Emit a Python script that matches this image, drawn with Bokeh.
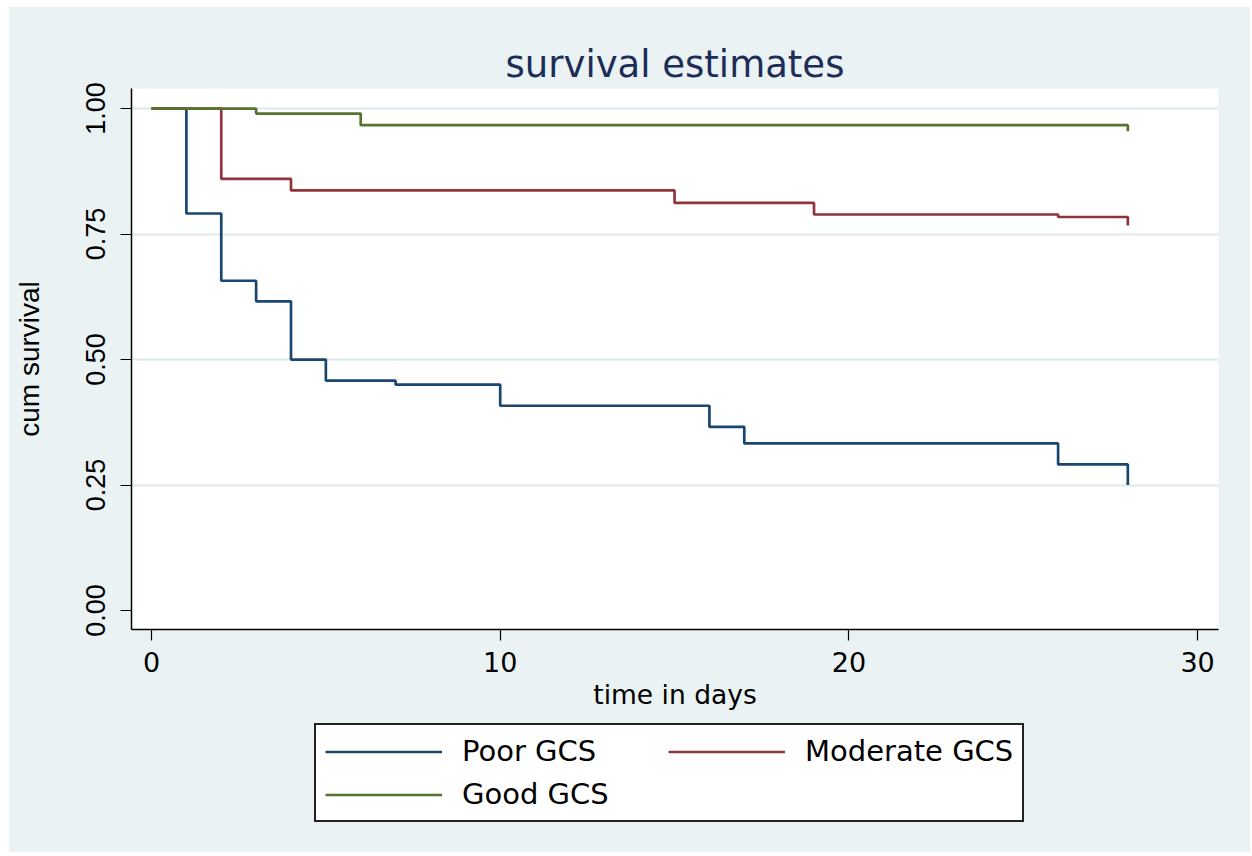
from bokeh.plotting import figure
from bokeh.models import FixedTicker, Legend, LegendItem, Range1d
from bokeh.layouts import column
from bokeh.embed import file_html
from bokeh.resources import INLINE

# ---- data ----
poor_t = [0, 1, 2, 3, 4, 5, 7, 10, 16, 17, 26, 28]
poor_s = [1.0, 0.791, 0.657, 0.616, 0.500, 0.458, 0.450, 0.408, 0.366, 0.333, 0.291, 0.250]
mod_t = [0, 2, 4, 15, 19, 26, 28]
mod_s = [1.0, 0.860, 0.837, 0.812, 0.789, 0.784, 0.767]
good_t = [0, 3, 6, 28]
good_s = [1.0, 0.990, 0.967, 0.955]

series_names = ["Poor GCS", "Moderate GCS", "Good GCS"]
x_ticks = [0, 10, 20, 30]
y_ticks = [0.0, 0.25, 0.5, 0.75, 1.0]
y_tick_labels = ["0.00", "0.25", "0.50", "0.75", "1.00"]

BG = "#eaf2f3"
COLORS = ["#1a476f", "#90353b", "#55752f"]
LW = 2.7

p = figure(frame_width=1087, frame_height=541, output_backend="svg", toolbar_location=None,
           x_range=Range1d(-0.574, 30.6), y_range=Range1d(-0.0378, 1.04),
           min_border_left=122, min_border_right=32, min_border_top=81, min_border_bottom=87)
p.border_fill_color = BG
p.background_fill_color = "white"
p.outline_line_color = None

p.title.text = "survival estimates"
p.title.align = "center"
p.title.text_font = "DejaVu Sans"
p.title.text_font_size = "37px"
p.title.text_font_style = "normal"
p.title.text_color = "#1c2d58"
p.title.standoff = 6

# axes
xa = p.xaxis[0]
xa.ticker = FixedTicker(ticks=x_ticks)
xa.axis_label = "time in days"
ya = p.yaxis[0]
ya.ticker = FixedTicker(ticks=y_ticks)
ya.major_label_overrides = {t: l for t, l in zip(y_ticks, y_tick_labels)}
ya.axis_label = "cum survival"
ya.major_label_orientation = "vertical"

for ax in (xa, ya):
    ax.axis_line_color = "black"
    ax.axis_line_width = 1.5
    ax.major_tick_line_color = "black"
    ax.major_tick_line_width = 1.2
    ax.major_tick_out = 11
    ax.major_tick_in = 0
    ax.minor_tick_line_color = None
    ax.major_label_text_color = "black"
    ax.axis_label_text_color = "black"
    ax.axis_label_text_font_style = "normal"

xa.major_label_text_font = "DejaVu Sans"
xa.major_label_text_font_size = "27px"
xa.major_label_standoff = 11
xa.axis_label_text_font = "DejaVu Sans"
xa.axis_label_text_font_size = "26.5px"
xa.axis_label_standoff = 4

ya.major_label_text_font = "Liberation Sans"
ya.major_label_text_font_size = "27px"
ya.major_label_standoff = 15
ya.axis_label_text_font = "Liberation Sans"
ya.axis_label_text_font_size = "28px"
ya.axis_label_standoff = 39

p.xgrid.grid_line_color = None
p.ygrid.ticker = FixedTicker(ticks=[0.25, 0.5, 0.75, 1.0])
p.ygrid.grid_line_color = "#dde7ec"
p.ygrid.grid_line_width = 2

p.step(poor_t, poor_s, mode="after", line_color=COLORS[0], line_width=LW)
p.step(mod_t, mod_s, mode="after", line_color=COLORS[1], line_width=LW)
p.step(good_t, good_s, mode="after", line_color=COLORS[2], line_width=LW)

# ---- legend strip below the plot (its frame is aligned with the plot's frame) ----
pl = figure(width=1241, height=136, output_backend="svg", toolbar_location=None,
            x_axis_type=None, y_axis_type=None,
            x_range=Range1d(0, 1), y_range=Range1d(0, 1),
            min_border_left=0, min_border_right=0, min_border_top=0, min_border_bottom=0)
pl.border_fill_color = BG
pl.background_fill_color = BG
pl.outline_line_color = None
pl.xgrid.visible = False
pl.ygrid.visible = False
lr = [pl.line([-5, -4], [-5, -4], line_color=c, line_width=LW) for c in COLORS]

legend = Legend(items=[LegendItem(label=n, renderers=[r]) for n, r in zip(series_names, lr)],
                location=(183, 30), orientation="horizontal", ncols=2)
legend.label_text_font = "DejaVu Sans"
legend.label_text_font_size = "29px"
legend.label_text_color = "black"
legend.glyph_width = 117
legend.glyph_height = 33
legend.label_standoff = 20
legend.label_width = 197
legend.label_height = 33
legend.spacing = 9
legend.padding = 9
legend.margin = 0
legend.border_line_color = "#222222"
legend.border_line_alpha = 1.0
legend.border_line_width = 2
legend.background_fill_color = "white"
legend.background_fill_alpha = 1.0
pl.add_layout(legend, "center")

layout = column(p, pl, spacing=0, margin=(7, 0, 0, 9), styles={"background-color": BG})

open("out.html", "w").write(file_html(layout, INLINE))
